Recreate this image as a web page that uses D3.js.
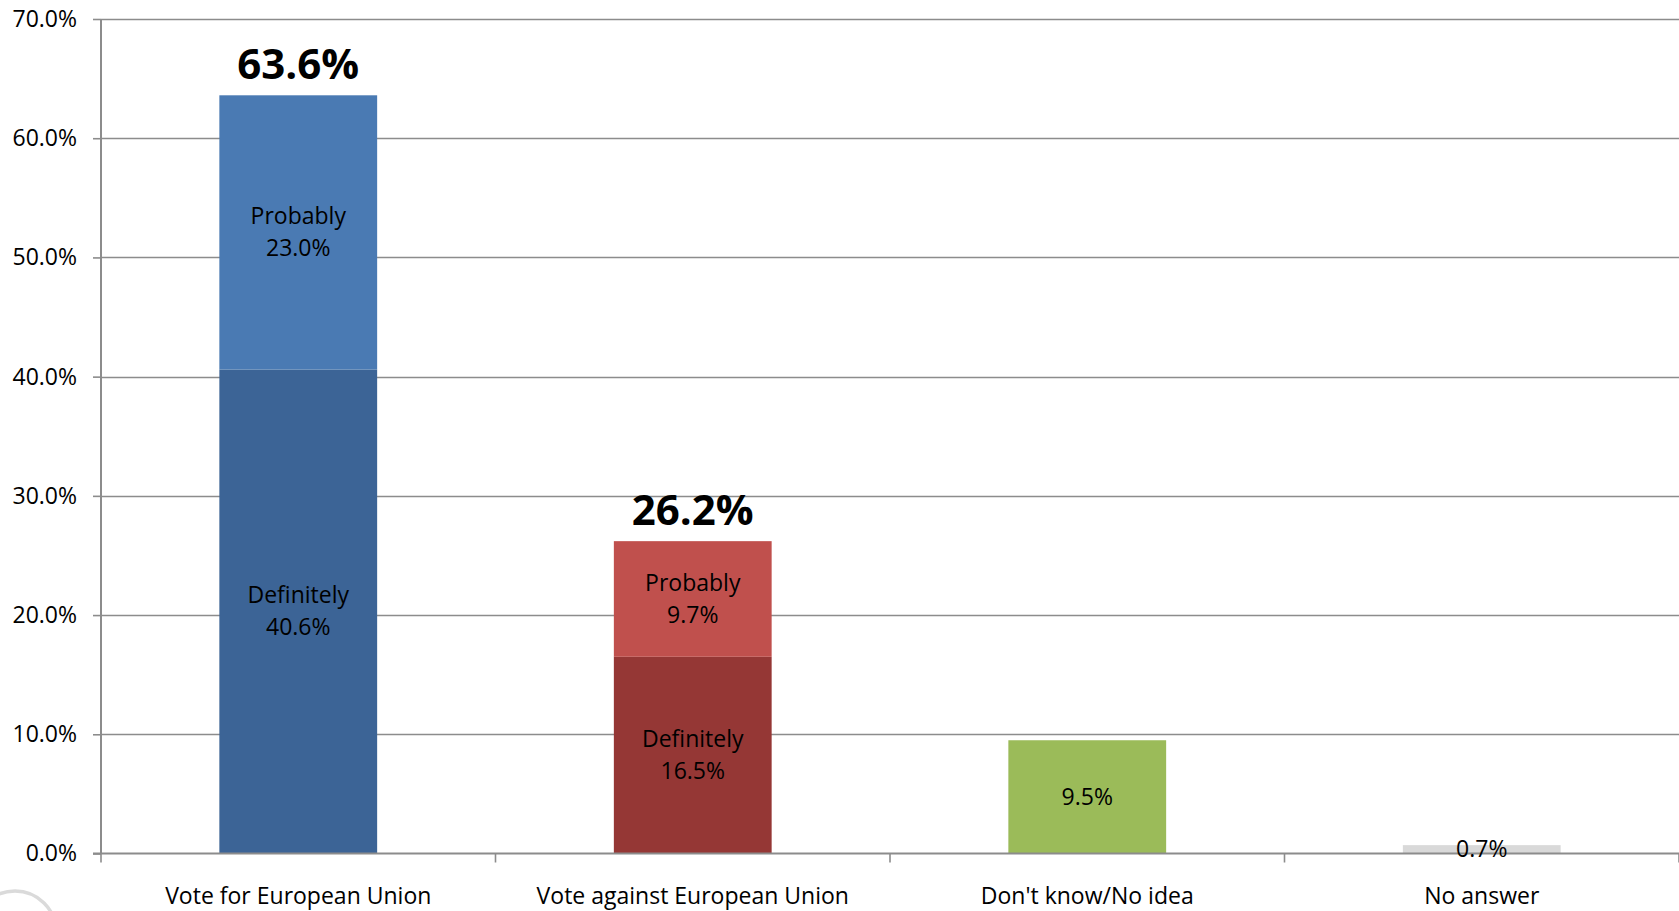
<!DOCTYPE html>
<html>
<head>
<meta charset="utf-8">
<script src="https://cdn.jsdelivr.net/npm/d3@7"></script>
<style>
  html, body { margin: 0; padding: 0; background: #fff; }
  svg { display: block; }
  text { font-family: "Open Sans", "Noto Sans", sans-serif; fill: #000; }
</style>
</head>
<body>
<svg id="chart" width="1679" height="911"></svg>
<script>
// ---- data ----
const categories = ["Vote for European Union", "Vote against European Union", "Don't know/No idea", "No answer"];
const definitely = [40.6, 16.5, 9.5, 0.7];
const probably = [23.0, 9.7, 0, 0];
const totals = [63.6, 26.2, null, null];
const baseLabels = ["Definitely", "Definitely", null, null];
const topLabels = ["Probably", "Probably", null, null];
const yTicks = [0, 10, 20, 30, 40, 50, 60, 70];
const baseColors = ["#3c6496", "#953735", "#9bbb59", "#d9d9d9"];
const topColors = ["#4a7ab3", "#c0504d", "#9bbb59", "#d9d9d9"];

(function () {
// ---- layout ----
const mLeft = 101, mRight = 1679, mTop = 19, mBottom = 853.5;
const fs = 23;
const svg = d3.select("#chart");

const x = d3.scaleBand().domain(categories).range([mLeft, mRight]).paddingInner(0.6).paddingOuter(0.3);
const y = d3.scaleLinear().domain([0, 70]).range([mBottom, mTop]);

// faint watermark arc bottom-left
svg.append("circle").attr("cx", 15).attr("cy", 932).attr("r", 41)
  .attr("fill", "none").attr("stroke", "#dadada").attr("stroke-width", 3.5);

// gridlines
svg.append("g").selectAll("line").data(yTicks.filter(d => d > 0)).join("line")
  .attr("x1", mLeft).attr("x2", mRight)
  .attr("y1", d => Math.round(y(d)) + 0.5).attr("y2", d => Math.round(y(d)) + 0.5)
  .attr("stroke", "#8c8c8c").attr("stroke-width", 1.6);

// y axis
const yAxis = d3.axisLeft(y).tickValues(yTicks).tickSize(8).tickPadding(16)
  .tickFormat(d => d.toFixed(1) + "%");
const gy = svg.append("g").attr("transform", `translate(${mLeft},0)`).call(yAxis);
gy.select(".domain").attr("stroke", "#8c8c8c").attr("stroke-width", 2).attr("d", `M0,${mTop}V${mBottom}`);
gy.selectAll(".tick line").attr("stroke", "#8c8c8c").attr("stroke-width", 1.6);
gy.selectAll(".tick text").attr("font-size", fs).attr("font-family", "'Open Sans', sans-serif").attr("fill", "#000");

// bars: base segment
const g = svg.append("g");
g.selectAll("rect.base").data(categories).join("rect").attr("class", "base")
  .attr("x", d => x(d)).attr("width", x.bandwidth())
  .attr("y", (d, i) => y(definitely[i])).attr("height", (d, i) => y(0) - y(definitely[i]))
  .attr("fill", (d, i) => baseColors[i]);
// top segment
g.selectAll("rect.top").data(categories).join("rect").attr("class", "top")
  .attr("x", d => x(d)).attr("width", x.bandwidth())
  .attr("y", (d, i) => y(definitely[i] + probably[i]))
  .attr("height", (d, i) => y(definitely[i]) - y(definitely[i] + probably[i]))
  .attr("fill", (d, i) => topColors[i]);

// x axis line and ticks
const xAxisG = svg.append("g");
xAxisG.append("line").attr("x1", mLeft - 8).attr("x2", mRight).attr("y1", mBottom).attr("y2", mBottom)
  .attr("stroke", "#8c8c8c").attr("stroke-width", 2.2);
const step = x.step();
const boundaries = d3.range(categories.length + 1).map(i => mLeft + i * step);
xAxisG.selectAll("line.tk").data(boundaries).join("line").attr("class", "tk")
  .attr("x1", d => d).attr("x2", d => d).attr("y1", mBottom).attr("y2", mBottom + 9)
  .attr("stroke", "#8c8c8c").attr("stroke-width", 1.6);
xAxisG.selectAll("text").data(categories).join("text")
  .attr("x", d => x(d) + x.bandwidth() / 2).attr("y", 904)
  .attr("text-anchor", "middle").attr("font-size", fs).text(d => d);

// segment labels
const lbl = svg.append("g");
categories.forEach((c, i) => {
  const cx = x(c) + x.bandwidth() / 2;
  if (baseLabels[i]) {
    const cy = y(definitely[i] / 2);
    lbl.append("text").attr("x", cx).attr("y", cy - 8).attr("text-anchor", "middle").attr("font-size", fs).text(baseLabels[i]);
    lbl.append("text").attr("x", cx).attr("y", cy + 24).attr("text-anchor", "middle").attr("font-size", fs).text(definitely[i].toFixed(1) + "%");
  } else {
    const cy = y(definitely[i] / 2);
    lbl.append("text").attr("x", cx).attr("y", cy + 8).attr("text-anchor", "middle").attr("font-size", fs).text(definitely[i].toFixed(1) + "%");
  }
  if (topLabels[i]) {
    const cy = y(definitely[i] + probably[i] / 2);
    lbl.append("text").attr("x", cx).attr("y", cy - 8).attr("text-anchor", "middle").attr("font-size", fs).text(topLabels[i]);
    lbl.append("text").attr("x", cx).attr("y", cy + 24).attr("text-anchor", "middle").attr("font-size", fs).text(probably[i].toFixed(1) + "%");
  }
  if (totals[i] !== null) {
    lbl.append("text").attr("x", cx).attr("y", y(totals[i]) - 16).attr("text-anchor", "middle")
      .attr("font-size", 42).attr("font-weight", "bold").text(totals[i].toFixed(1) + "%");
  }
});
})();
</script>
</body>
</html>
